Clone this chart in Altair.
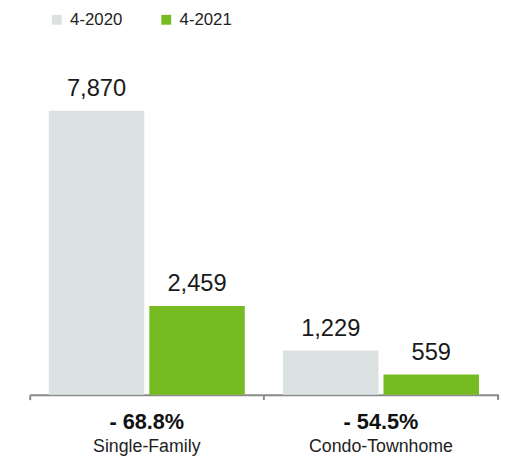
import altair as alt
import pandas as pd

categories = ["Single-Family", "Condo-Townhome"]
years = ["4-2020", "4-2021"]
values_2020 = [7870, 1229]
values_2021 = [2459, 559]
pct_change = ["- 68.8%", "- 54.5%"]

rows = []
for i, c in enumerate(categories):
    rows.append({"cat": c, "year": years[0], "value": values_2020[i]})
    rows.append({"cat": c, "year": years[1], "value": values_2021[i]})
df = pd.DataFrame(rows)
lab = pd.DataFrame({"cat": categories, "pct": pct_change})

W, H = 475, 366
FONT = "Liberation Sans"

xenc = alt.X("cat:N", sort=categories,
             scale=alt.Scale(paddingInner=0, paddingOuter=0),
             axis=alt.Axis(title=None, labels=False, domainColor="#8a8a8a", domainWidth=2,
                           tickColor="#8a8a8a", tickWidth=2, tickSize=5, bandPosition=0))
xoff = alt.XOffset("year:N", sort=years, scale=alt.Scale(paddingInner=0.05, paddingOuter=0.19))
yenc = alt.Y("value:Q", scale=alt.Scale(domain=[0, 10000]), axis=None)

bars = alt.Chart(df).mark_bar(strokeWidth=0).encode(
    x=xenc, xOffset=xoff, y=yenc,
    color=alt.Color("year:N", sort=years,
                    scale=alt.Scale(domain=years, range=["#dce2e2", "#77bb22"]),
                    legend=alt.Legend(title=None, orient="none", legendX=19, legendY=-23,
                                      direction="horizontal", symbolType="square",
                                      symbolSize=100, symbolStrokeWidth=0,
                                      labelFont=FONT, labelFontSize=17, labelColor="#222222",
                                      labelOffset=5, columnPadding=36, padding=0)),
)

values = alt.Chart(df).mark_text(font=FONT, fontSize=24, dy=-15, color="#1a1a1a",
                                 baseline="alphabetic").encode(
    x=alt.X("cat:N", sort=categories), xOffset=xoff, y=yenc,
    text=alt.Text("value:Q", format=","),
)

pct = alt.Chart(lab).mark_text(font=FONT, fontSize=22, fontWeight="bold", color="#111111",
                               baseline="alphabetic").encode(
    x=alt.X("cat:N", sort=categories), y=alt.value(H + 35), text="pct:N")

catlab = alt.Chart(lab).mark_text(font=FONT, fontSize=18, color="#222222",
                                  baseline="alphabetic").encode(
    x=alt.X("cat:N", sort=categories), y=alt.value(H + 58), text="cat:N")

endtick = alt.Chart(lab).mark_rule(color="#8a8a8a", strokeWidth=2).encode(
    x=alt.value(W), y=alt.value(H), y2=alt.value(H + 5))

chart = alt.layer(bars, values, pct, catlab, endtick).properties(
    width=W, height=H,
    autosize=alt.AutoSizeParams(type="none"),
    padding={"left": 22, "top": 23, "right": 6, "bottom": 64},
).configure_view(stroke=None)

chart.save("out.html", embed_options={"renderer": "svg", "actions": False})
